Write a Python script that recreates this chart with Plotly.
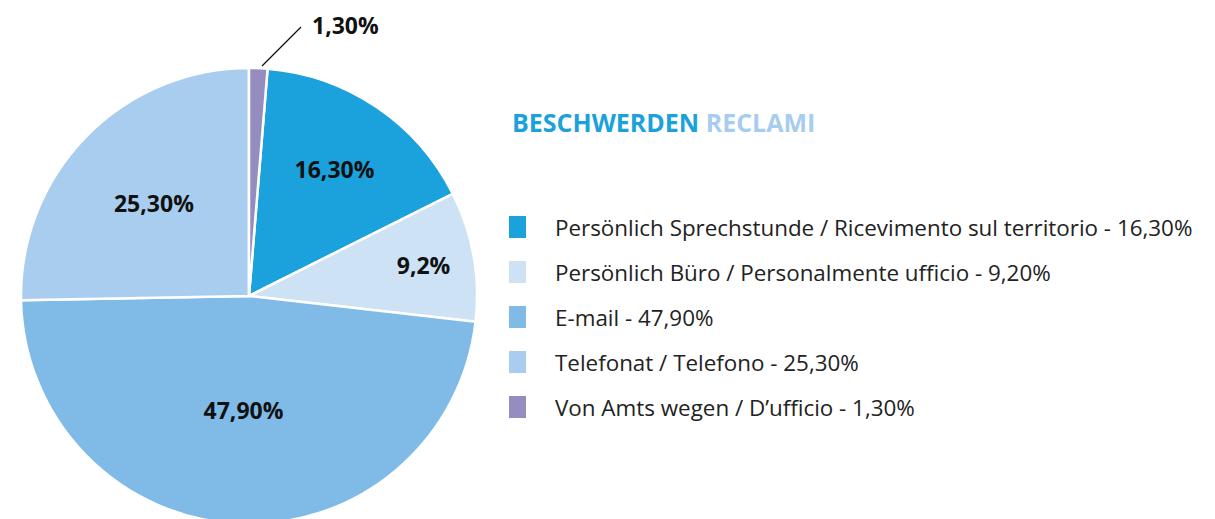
import plotly.graph_objects as go

labels = [
    "Persönlich Sprechstunde / Ricevimento sul territorio",
    "Persönlich Büro / Personalmente ufficio",
    "E-mail",
    "Telefonat / Telefono",
    "Von Amts wegen / D’ufficio",
]
values = [16.3, 9.2, 47.9, 25.3, 1.3]
slice_text = ["16,30%", "9,2%", "47,90%", "25,30%", "1,30%"]
legend_text = ["16,30%", "9,20%", "47,90%", "25,30%", "1,30%"]
colors = ["#1ba1db", "#cde2f5", "#80bae6", "#a9cdef", "#958dc0"]

W, H = 1215, 519
FONT = "Open Sans"

fig = go.Figure()
fig.add_trace(go.Pie(
    labels=labels,
    values=values,
    text=slice_text,
    texttemplate=["%{text}"] * 4 + [""],
    textposition=["inside"] * 4 + ["none"],
    insidetextorientation="horizontal",
    textfont=dict(family=FONT, size=23, color="#111111", weight="bold"),
    marker=dict(colors=colors, line=dict(color="white", width=2.5)),
    sort=False,
    direction="clockwise",
    rotation=1.3 * 3.6,
    domain=dict(x=[13 / W, 469 / W], y=[1 - 516 / H, 1 - 60 / H]),
    showlegend=False,
    hoverinfo="label+percent",
))

# callout for the small slice: leader line + label
fig.add_shape(
    type="line", xref="paper", yref="paper",
    x0=254 / W, y0=1 - 58 / H, x1=293 / W, y1=1 - 19 / H,
    line=dict(color="#111111", width=1.3),
)
fig.add_annotation(
    x=302 / W, y=1 - 17 / H, xref="paper", yref="paper",
    xanchor="left", yanchor="middle", showarrow=False,
    text="<b>" + slice_text[4] + "</b>",
    font=dict(family=FONT, size=23, color="#111111"),
)

# title
fig.add_annotation(
    x=502 / W, y=1 - 114 / H, xref="paper", yref="paper",
    xanchor="left", yanchor="middle", showarrow=False,
    text="<b><span style='color:#1ba1db'>BESCHWERDEN</span> "
         "<span style='color:#a6cdef'>RECLAMI</span></b>",
    font=dict(family=FONT, size=25),
)

# legend
row0, step = 219, 45
for i, (lab, pct, col) in enumerate(zip(labels, legend_text, colors)):
    yc = row0 + i * step
    fig.add_shape(
        type="rect", xref="paper", yref="paper",
        x0=501 / W, x1=518 / W, y0=1 - (yc - 11) / H, y1=1 - (yc + 11) / H,
        fillcolor=col, line_width=0,
    )
    fig.add_annotation(
        x=545 / W, y=1 - yc / H, xref="paper", yref="paper",
        xanchor="left", yanchor="middle", showarrow=False,
        text=f"{lab} - {pct}",
        font=dict(family=FONT, size=22.4, color="#222222"),
    )

fig.update_layout(
    width=W, height=H,
    margin=dict(l=0, r=0, t=0, b=0),
    paper_bgcolor="white",
    plot_bgcolor="white",
)

fig.write_html("out.html")
